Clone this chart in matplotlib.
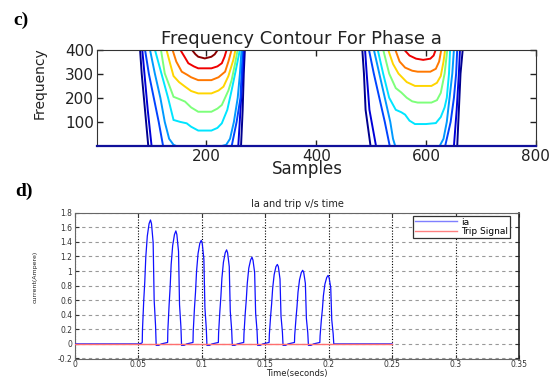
import numpy as np
import matplotlib.pyplot as plt
from matplotlib.lines import Line2D

# ---------------- data: panel c) contour lines (sample, frequency) ----------------
level_colors = ['#00008f', '#0000d8', '#0044ff', '#0099ff', '#00e5ff',
                '#7dff7a', '#ffd500', '#ff7800', '#f00000', '#8a0000']

burst1_s = [
    [79, 82, 88, 94, 263, 266, 268, 270],
    [83, 87, 93, 100, 258, 262, 266, 268],
    [88, 95, 104, 113, 121, 246, 255, 262, 264, 266],
    [97, 106, 116, 124, 132, 140, 145, 228, 236, 243, 250, 257, 261, 264],
    [106, 118, 130, 140, 152, 164, 172, 185, 209, 220, 228, 238, 246, 254, 261],
    [117, 124, 140, 150, 161, 172, 185, 209, 220, 228, 240, 246, 252, 257],
    [127, 134, 140, 150, 161, 172, 185, 209, 222, 231, 240, 249, 253],
    [138, 145, 155, 165, 172, 185, 209, 222, 234, 240, 246],
    [152, 160, 167, 177, 185, 209, 220, 228, 233, 237],
    [173, 180, 185, 197, 209, 215, 221],
]
burst1_f = [
    [400, 300, 150, 0, 0, 150, 300, 400],
    [400, 300, 150, 0, 0, 150, 300, 400],
    [400, 300, 200, 100, 0, 0, 100, 200, 300, 400],
    [400, 300, 200, 100, 30, 5, 0, 0, 5, 30, 100, 200, 300, 400],
    [400, 300, 200, 108, 100, 94, 80, 64, 64, 75, 94, 150, 232, 320, 400],
    [400, 301, 204, 195, 184, 160, 142, 142, 155, 170, 230, 274, 340, 400],
    [400, 340, 290, 265, 246, 228, 218, 218, 230, 246, 290, 357, 400],
    [400, 350, 308, 295, 285, 273, 273, 285, 308, 350, 400],
    [400, 370, 343, 330, 322, 322, 330, 343, 370, 400],
    [400, 380, 370, 363, 370, 380, 400],
]

burst2_s = [
    [484, 487, 490, 499, 657, 660, 663, 667],
    [489, 492, 497, 509, 651, 656, 660, 662],
    [496, 505, 515, 525, 534, 635, 645, 651, 655, 657],
    [505, 515, 525, 535, 540, 544, 625, 632, 638, 643, 648, 651],
    [512, 522, 533, 545, 555, 562, 570, 580, 600, 618, 627, 634, 638, 642, 644],
    [522, 533, 545, 555, 565, 575, 585, 610, 620, 627, 634, 639],
    [531, 540, 550, 565, 580, 610, 620, 627, 632, 635],
    [544, 552, 562, 575, 585, 608, 618, 624, 628],
    [560, 570, 582, 595, 608, 614, 618],
]
burst2_f = [
    [400, 300, 150, 0, 0, 150, 300, 400],
    [400, 300, 150, 0, 0, 150, 300, 400],
    [400, 300, 200, 100, 0, 0, 100, 200, 300, 400],
    [400, 300, 200, 100, 30, 0, 0, 30, 100, 200, 300, 400],
    [400, 300, 200, 150, 140, 130, 105, 91, 91, 95, 120, 160, 200, 300, 400],
    [400, 300, 240, 222, 200, 185, 180, 180, 190, 220, 300, 400],
    [400, 340, 300, 265, 249, 249, 262, 290, 350, 400],
    [400, 350, 325, 312, 308, 308, 320, 350, 400],
    [400, 375, 362, 357, 362, 375, 400],
]

# ---------------- data: panel d) current and trip signal ----------------
lead_t = [0.0, 0.050, 0.0525]
lead_v = [0.0, 0.0, 0.01]
pulse_centers = [0.06, 0.08, 0.10, 0.12, 0.14, 0.16, 0.18, 0.20]
pulse_offsets = [-0.0070, -0.0068, -0.0058, -0.0050, -0.0042, -0.0030, -0.0016, -0.0005,
                 0.0003, 0.0016, 0.0020, 0.0024, 0.0035, 0.0040, 0.0060, 0.0080]
pulse_values = [
    [0.02, 0.20, 0.60, 0.85, 1.19, 1.48, 1.65, 1.70, 1.65, 1.39, 1.00, 0.60, 0.25, -0.02, -0.02, 0.00],
    [0.02, 0.19, 0.54, 0.78, 1.09, 1.35, 1.50, 1.55, 1.50, 1.27, 0.91, 0.54, 0.23, -0.02, -0.02, 0.00],
    [0.02, 0.17, 0.50, 0.71, 0.99, 1.24, 1.38, 1.42, 1.38, 1.16, 0.84, 0.50, 0.21, -0.02, -0.02, 0.00],
    [0.02, 0.15, 0.45, 0.65, 0.90, 1.12, 1.25, 1.29, 1.25, 1.06, 0.76, 0.45, 0.19, -0.02, -0.02, 0.00],
    [0.02, 0.14, 0.42, 0.60, 0.83, 1.04, 1.15, 1.19, 1.15, 0.98, 0.70, 0.42, 0.18, -0.02, -0.02, 0.00],
    [0.02, 0.13, 0.38, 0.55, 0.76, 0.95, 1.06, 1.09, 1.06, 0.89, 0.64, 0.38, 0.16, -0.02, -0.02, 0.00],
    [0.02, 0.12, 0.35, 0.51, 0.71, 0.88, 0.98, 1.01, 0.98, 0.83, 0.60, 0.35, 0.15, -0.02, -0.02, 0.00],
    [0.02, 0.11, 0.33, 0.47, 0.66, 0.82, 0.91, 0.94, 0.91, 0.77, 0.55, 0.33, 0.14, 0.00, 0.00, 0.00],
]
tail_t = [0.25]
tail_v = [0.0]
trip_t = [0.0, 0.25]
trip_v = [0.0, 0.0]

x2_ticks = [0, 0.05, 0.1, 0.15, 0.2, 0.25, 0.3, 0.35]
x2_labels = ['0', '0.05', '0.1', '0.15', '0.2', '0.25', '0.3', '0.35']
y2_ticks = [-0.2, 0, 0.2, 0.4, 0.6, 0.8, 1, 1.2, 1.4, 1.6, 1.8]
y2_labels = ['-0.2', '0', '0.2', '0.4', '0.6', '0.8', '1', '1.2', '1.4', '1.6', '1.8']

# ---------------- figure ----------------
W, H = 556, 377
fig = plt.figure(figsize=(W / 100, H / 100), dpi=100)
fig.patch.set_facecolor('white')

# panel c)
ax1 = fig.add_axes([96.7 / W, 1 - 146 / H, 439 / W, 96.5 / H])
for s, f, c in zip(burst1_s, burst1_f, level_colors):
    ax1.plot(s, f, color=c, lw=1.4, solid_joinstyle='miter')
for s, f, c in zip(burst2_s, burst2_f, level_colors):
    ax1.plot(s, f, color=c, lw=1.4, solid_joinstyle='miter')
ax1.set_xlim(0, 800)
ax1.set_ylim(0, 400)
ax1.set_xticks([200, 400, 600, 800])
ax1.set_yticks([100, 200, 300, 400])
ax1.tick_params(direction='in', top=True, right=True, length=4, width=1,
                labelsize=11, colors='#222222', pad=2)
for side in ['left', 'top', 'right']:
    ax1.spines[side].set_color('#333333')
ax1.spines['bottom'].set_color('#10109a')
ax1.spines['bottom'].set_linewidth(1.6)
ax1.set_xlabel('Samples', fontsize=12, color='#222222')
ax1.xaxis.set_label_coords(0.48, -0.15)
ax1.set_ylabel('Frequency', fontsize=10, color='#222222')
ax1.yaxis.set_label_coords(-0.115, 0.65)
fig.text(301 / W, 1 - 44 / H, 'Frequency Contour For Phase a', ha='center',
         va='baseline', fontsize=13, color='#222222')
fig.text(13 / W, 1 - 25 / H, 'c)', fontsize=14, fontweight='bold',
         family='Liberation Serif', va='baseline')

# panel d)
ax2 = fig.add_axes([75 / W, 1 - 358.5 / H, 444 / W, 145.8 / H])
ia_t = list(lead_t)
ia_v = list(lead_v)
for tc, vals in zip(pulse_centers, pulse_values):
    ia_t += [tc + o for o in pulse_offsets]
    ia_v += vals
ia_t += tail_t
ia_v += tail_v
ax2.plot(ia_t, ia_v, color='#1010ff', lw=0.9, zorder=3)
ax2.plot(trip_t, trip_v, color='#ff6f6f', lw=1.0, zorder=4)
ax2.set_xlim(0, 0.35)
ax2.set_ylim(-0.2, 1.8)
ax2.set_xticks(x2_ticks)
ax2.set_xticklabels(x2_labels)
ax2.set_yticks(y2_ticks)
ax2.set_yticklabels(y2_labels)
ax2.grid(axis='x', linestyle=(0, (1, 1.5)), color='black', lw=0.8)
ax2.grid(axis='y', linestyle=(0, (3, 3)), color='#999999', lw=0.8)
ax2.tick_params(direction='in', top=True, right=True, length=3, width=0.8,
                labelsize=5.5, colors='#333333', pad=2)
ax2.tick_params(axis='x', pad=1)
for side in ax2.spines:
    ax2.spines[side].set_color('#666666')
ax2.spines['right'].set_color('#222222')
ax2.spines['right'].set_linewidth(1.2)
ax2.set_title('Ia and trip v/s time', fontsize=7, color='#222222', pad=4)
ax2.set_xlabel('Time(seconds)', fontsize=6, color='#222222', labelpad=0)
ax2.set_ylabel('current(Ampere)', fontsize=4.5, color='#222222',
               family=['Liberation Sans Narrow', 'DejaVu Sans'])
ax2.yaxis.set_label_coords(-0.085, 0.56)
handles = [Line2D([], [], color='#7f7fff', lw=1), Line2D([], [], color='#ff8080', lw=1)]
leg = ax2.legend(handles, ['ia', 'Trip Signal'], loc='upper right',
                 bbox_to_anchor=(0.98, 0.979), fontsize=6.5, frameon=True,
                 fancybox=False, edgecolor='#333333', framealpha=1,
                 borderpad=0.2, labelspacing=0.1, handlelength=4.6,
                 handletextpad=0.5, borderaxespad=0)
leg.get_frame().set_linewidth(0.9)
fig.text(15 / W, 1 - 196 / H, 'd)', fontsize=14, fontweight='bold',
         family='Liberation Serif', va='baseline')

fig.savefig('out.png', dpi=100)
